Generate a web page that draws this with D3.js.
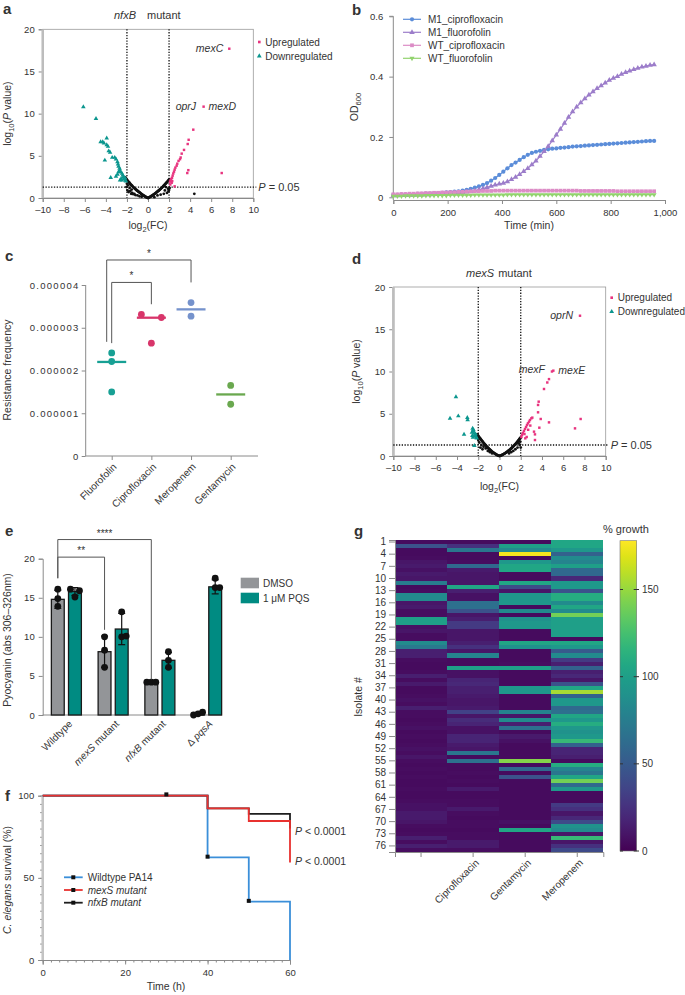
<!DOCTYPE html>
<html><head><meta charset="utf-8">
<script src="https://cdn.jsdelivr.net/npm/d3@7"></script>
<style>
body{margin:0;background:#fff;}
svg text{font-family:"Liberation Sans",Arial,sans-serif;fill:#333;}
</style></head><body>
<svg id="fig" width="685" height="995"></svg>
<script>
// ================= DATA =================
// Panel a: nfxB mutant volcano ([log2FC, -log10 P])
const aUp = [[7.72,17.7],[5.28,10.83],[4.3,8.1],[3.86,6.9],[3.77,6.4],[3.42,5.7],[3.2,5.26],[3.1,4.8],[3.04,4.6],[2.9,4.4],[2.78,4.07],[2.72,3.83],[2.6,3.6],[2.53,3.36],[2.47,3.12],[2.4,2.9],[2.34,2.65],[2.28,2.4],[2.2,2.25],[2.15,2.1],[2.09,1.94],[3.83,3.3],[3.73,2.96],[7.0,2.96],[2.53,1.38],[2.3,2.0],[2.25,1.8],[2.12,1.6]];
const aDown = [[-6.14,10.8],[-4.94,9.4],[-4.5,6.64],[-4.3,6.64],[-4.18,6.5],[-3.92,7.1],[-3.92,6.3],[-3.8,6.1],[-3.73,5.57],[-3.6,5.4],[-4.1,4.47],[-3.4,4.8],[-3.16,4.8],[-3.04,4.6],[-2.9,4.27],[-2.85,4.0],[-2.8,3.75],[-2.7,3.5],[-2.66,3.28],[-3.54,2.4],[-3.04,2.57],[-2.6,3.08],[-2.47,2.9],[-2.4,2.7],[-2.34,2.5],[-2.25,2.3],[-2.15,2.1],[-2.47,2.1],[-2.66,2.1],[-2.1,2.0],[-2.8,3.1],[-2.9,2.8],[-2.55,2.3],[-2.2,2.4]];
const aNs = [[-2.15,2.45],[-2.1,2.3],[-2.05,2.2],[-2.0,2.15],[-1.95,2.05],[-1.9,2.0],[-1.85,1.9],[-1.8,1.85],[-1.75,1.78],[-1.7,1.7],[-1.65,1.62],[-1.6,1.55],[-1.55,1.5],[-1.5,1.42],[-1.45,1.36],[-1.4,1.3],[-1.35,1.24],[-1.3,1.18],[-1.25,1.12],[-1.2,1.06],[-1.15,1.0],[-1.1,0.95],[-1.05,0.9],[-1.0,0.85],[-0.95,0.8],[-0.9,0.75],[-0.85,0.7],[-0.8,0.65],[-0.75,0.6],[-0.7,0.55],[-0.65,0.5],[-0.6,0.45],[-0.55,0.4],[-0.5,0.36],[-0.45,0.32],[-0.4,0.28],[-0.35,0.24],[-0.3,0.2],[-0.25,0.16],[-0.2,0.12],[-0.15,0.08],[-0.1,0.05],[-0.05,0.02],[0,0],
 [-2.05,1.3],[-1.95,0.9],[-1.85,0.7],[-1.7,0.8],[-1.6,0.5],[-1.5,0.6],[-1.4,0.45],[-1.3,0.5],[-1.2,0.35],[-1.0,0.3],[-0.8,0.2],[-0.6,0.15],[-1.75,1.2],[-1.55,1.0],[-1.9,1.5],[-2.0,1.7],
 [0.05,0.03],[0.1,0.06],[0.15,0.1],[0.2,0.13],[0.25,0.17],[0.3,0.21],[0.35,0.25],[0.4,0.29],[0.45,0.33],[0.5,0.37],[0.55,0.42],[0.6,0.46],[0.65,0.51],[0.7,0.56],[0.75,0.61],[0.8,0.66],[0.85,0.71],[0.9,0.76],[0.95,0.81],[1.0,0.86],[1.05,0.92],[1.1,0.97],[1.15,1.03],[1.2,1.09],[1.25,1.15],[1.3,1.21],[1.35,1.27],[1.4,1.33],[1.45,1.4],[1.5,1.46],[1.55,1.53],[1.6,1.6],[1.65,1.67],[1.7,1.74],[1.75,1.81],[1.8,1.88],[1.85,1.95],[1.9,2.03],[1.95,2.1],[2.0,2.2],
 [1.9,1.1],[1.95,0.8],[2.0,0.95],[1.8,0.6],[1.5,0.5],[1.2,0.4],[0.9,0.3],[1.6,0.9],[1.7,1.3],[2.05,1.2],[0.6,0.1],[4.4,0.5]];
const aGenes = ["mexC","oprJ","mexD"];
// Panel d: mexS mutant volcano
const dUp = [[7.58,16.6],[5.07,10.1],[4.94,10.0],[4.66,9.1],[4.5,8.7],[4.19,7.93],[3.69,6.43],[3.63,6.04],[3.63,5.17],[3.09,4.54],[3.0,4.46],[2.87,4.26],[2.78,4.06],[2.68,3.87],[2.59,3.67],[2.5,3.43],[2.4,3.2],[2.3,2.96],[2.2,2.72],[2.12,2.49],[2.06,2.25],[3.88,4.38],[3.75,3.35],[4.66,3.98],[7.11,3.27],[7.64,4.38],[3.25,2.88],[3.34,2.56],[2.56,2.25],[2.43,2.09],[3.34,1.89],[2.9,3.6],[2.7,3.1],[2.35,2.6]];
const dDown = [[-4.1,7.0],[-4.66,4.46],[-3.88,4.73],[-3.03,4.54],[-3.0,4.26],[-3.34,2.56],[-2.53,3.27],[-2.46,2.96],[-2.4,2.68],[-2.3,2.49],[-2.56,2.4],[-2.2,2.25],[-2.15,2.1],[-2.37,1.22],[-2.46,3.1],[-2.6,2.8],[-2.33,2.4],[-2.5,2.2],[-2.25,2.6]];
const dNs = [[-2.1,2.55],[-2.05,2.45],[-2.0,2.38],[-1.95,2.3],[-1.9,2.2],[-1.85,2.12],[-1.8,2.04],[-1.75,1.96],[-1.7,1.88],[-1.65,1.8],[-1.6,1.72],[-1.55,1.64],[-1.5,1.56],[-1.45,1.48],[-1.4,1.4],[-1.35,1.33],[-1.3,1.26],[-1.25,1.19],[-1.2,1.12],[-1.15,1.05],[-1.1,0.98],[-1.05,0.92],[-1.0,0.86],[-0.95,0.8],[-0.9,0.74],[-0.85,0.68],[-0.8,0.62],[-0.75,0.57],[-0.7,0.52],[-0.65,0.47],[-0.6,0.42],[-0.55,0.37],[-0.5,0.33],[-0.45,0.29],[-0.4,0.25],[-0.35,0.21],[-0.3,0.17],[-0.25,0.14],[-0.2,0.1],[-0.15,0.07],[-0.1,0.04],[-0.05,0.02],[0,0],
 [-1.9,1.6],[-1.7,1.3],[-1.5,1.1],[-1.3,0.9],[-1.1,0.6],[-0.9,0.45],[-0.7,0.3],[-1.8,1.0],[-1.6,0.8],[-2.0,1.9],
 [0.05,0.02],[0.1,0.04],[0.15,0.07],[0.2,0.1],[0.25,0.13],[0.3,0.16],[0.35,0.2],[0.4,0.23],[0.45,0.27],[0.5,0.31],[0.55,0.35],[0.6,0.39],[0.65,0.43],[0.7,0.48],[0.75,0.52],[0.8,0.57],[0.85,0.62],[0.9,0.67],[0.95,0.72],[1.0,0.78],[1.05,0.83],[1.1,0.89],[1.15,0.95],[1.2,1.01],[1.25,1.07],[1.3,1.14],[1.35,1.2],[1.4,1.27],[1.45,1.34],[1.5,1.41],[1.55,1.48],[1.6,1.56],[1.65,1.63],[1.7,1.71],[1.75,1.79],[1.8,1.87],[1.85,1.95],[1.9,2.04],[1.95,2.12],[2.0,2.2],
 [1.9,1.3],[1.7,1.0],[1.5,0.8],[1.3,0.6],[1.1,0.45],[0.9,0.3],[1.95,1.7],[1.8,1.5],[2.0,1.0]];
const dGenes = ["oprN","mexF","mexE"];
const volcanoXTicks = [-10,-8,-6,-4,-2,0,2,4,6,8,10];
const volcanoYTicks = [0,5,10,15,20];
const pCut = 1.3;

// Panel b: growth curves
const bTime = [0,15,30,45,60,75,90,105,120,135,150,165,180,195,210,225,240,255,270,285,300,315,330,345,360,375,390,405,420,435,450,465,480,495,510,525,540,555,570,585,600,615,630,645,660,675,690,705,720,735,750,765,780,795,810,825,840,855,870,885,900,915,930,945,960];
const bM1Cipro = [.008,.008,.009,.009,.010,.010,.011,.011,.012,.012,.013,.014,.015,.016,.017,.019,.020,.022,.025,.028,.032,.036,.041,.047,.055,.064,.074,.085,.096,.107,.115,.124,.133,.141,.147,.151,.154,.157,.159,.161,.162,.164,.165,.166,.168,.169,.170,.171,.172,.173,.174,.175,.176,.177,.178,.179,.180,.181,.182,.183,.184,.185,.186,.187,.187];
const bM1Fluoro = [.005,.005,.006,.006,.007,.007,.008,.008,.009,.009,.010,.010,.011,.012,.013,.014,.015,.016,.018,.020,.022,.025,.029,.033,.037,.041,.044,.047,.052,.059,.067,.076,.086,.096,.108,.121,.136,.152,.169,.188,.207,.226,.246,.266,.284,.300,.314,.327,.339,.350,.361,.370,.379,.388,.395,.401,.408,.414,.419,.424,.428,.432,.435,.438,.440];
const bWTCipro = [.010,.010,.011,.011,.012,.012,.013,.013,.014,.014,.015,.015,.016,.016,.017,.017,.018,.018,.019,.019,.020,.020,.021,.021,.021,.022,.022,.022,.022,.022,.022,.022,.022,.022,.022,.022,.022,.022,.022,.022,.022,.022,.022,.022,.022,.022,.021,.021,.021,.021,.021,.021,.021,.021,.021,.020,.020,.020,.020,.020,.020,.020,.020,.020,.020];
const bWTFluoro = [.004,.004,.004,.005,.005,.005,.005,.005,.006,.006,.006,.006,.006,.006,.007,.007,.007,.007,.007,.007,.008,.008,.008,.008,.008,.008,.008,.008,.009,.009,.009,.009,.009,.009,.009,.009,.009,.009,.009,.009,.009,.009,.009,.009,.009,.009,.009,.009,.009,.009,.009,.009,.009,.009,.009,.009,.009,.009,.009,.009,.009,.009,.009,.009,.009];
const bSeriesNames = ["M1_ciprofloxacin","M1_fluorofolin","WT_ciprofloxacin","WT_fluorofolin"];

// Panel c: resistance frequency
const cCats = ["Fluorofolin","Ciprofloxacin","Meropenem","Gentamycin"];
const cPoints = [[2.41e-6,2.21e-6,1.50e-6],[3.31e-6,3.24e-6,2.64e-6],[3.59e-6,3.27e-6],[1.65e-6,1.21e-6]];
const cMedians = [2.2e-6,3.235e-6,3.43e-6,1.44e-6];
const cTicks = [0,1e-6,2e-6,3e-6,4e-6];

// Panel e: pyocyanin
const eGroups = ["Wildtype","mexS mutant","nfxB mutant","Δ pqsA"];
const eTreat = ["DMSO","1 μM PQS"];
const eDmsoMean = [14.8,8.1,4.2,0.15];
const eDmsoSd = [1.15,2.0,0.05,0.15];
const ePqsMean = [15.8,11.0,7.0,16.4];
const ePqsSd = [0.5,2.0,1.0,0.9];
const eDmsoPts = [[16.1,14.9,13.9],[10.0,8.3,6.1],[4.2,4.2,4.2],[0.0,0.15,0.35]];
const ePqsPts = [[16.1,15.1,15.9],[13.2,10.0,10.1],[8.1,7.0,6.1],[17.5,16.3,16.3]];
const eTicks = [0,5,10,15,20];

// Panel f: survival
const fTime = [0,40,50,60];
const fWT = [100,62.5,35.5,0];
const fMexS = [100,92.3,84.6,59.4];
const fNfxB = [100,92.3,88.9,80];
const fWTMarks = [[30,100.8],[40,62.9],[50,36]];
const fNames = ["Wildtype PA14","mexS mutant","nfxB mutant"];

// Panel g: heatmap, % growth for 77 isolates
const gCols = ["","Ciprofloxacin","Gentamycin","Meropenem"];
const gCol1 = [5,45,5,5,6,10,12,8,12,10,75,5,6,85,85,10,12,6,6,100,100,8,10,6,6,85,72,15,15,6,5,5,6,15,6,12,5,5,6,8,6,15,6,6,5,6,8,5,6,5,6,8,6,10,6,5,6,5,6,5,5,6,5,5,6,8,8,12,12,10,6,5,6,15,6,15,6];
const gCipro = [5,25,70,5,5,6,60,12,10,10,10,105,15,8,8,65,65,45,10,15,30,30,10,10,10,15,25,10,80,5,5,100,8,8,18,20,15,15,12,10,10,12,35,10,22,18,8,8,18,18,12,10,70,5,65,5,5,6,5,6,5,12,5,5,6,6,12,6,5,6,6,5,6,6,12,12,6];
const gGenta = [5,100,85,175,5,95,105,105,5,5,105,40,10,95,95,95,5,85,5,90,95,95,5,5,5,105,90,5,5,5,6,100,5,5,5,5,95,95,5,5,5,5,80,10,85,15,65,5,12,8,5,5,5,5,145,5,60,5,45,5,5,5,5,5,5,5,5,5,5,8,5,105,5,5,5,5,5];
const gMero = [105,105,95,55,85,80,100,60,60,20,95,95,45,110,110,85,105,85,140,100,100,100,100,100,5,105,95,50,85,30,15,55,15,20,10,45,105,155,55,95,95,60,65,105,95,110,95,90,95,120,55,18,18,15,5,110,80,70,105,140,60,95,5,5,5,30,25,10,20,40,90,85,10,120,10,25,40];
const gRowTicks = [1,4,7,10,13,16,19,22,25,28,31,34,37,40,43,46,49,52,55,58,61,64,67,70,73,76];
const gColorTicks = [0,50,100,150];
const gColorMax = 178;

// ================= DRAWING =================
const svg = d3.select("#fig");
const TXT = "#333", AX = "#8a8a8a";
const PINK = "#e8347f", TEAL = "#0b968e";

function styleAxis(g, fs) {
  g.selectAll("path.domain").attr("stroke", AX).attr("stroke-width", 1);
  g.selectAll(".tick line").attr("stroke", AX);
  g.selectAll(".tick text").attr("fill", TXT).style("font-size", (fs || 9.5) + "px")
    .style("font-family", '"Liberation Sans", Arial, sans-serif');
  return g;
}
function rich(sel, parts) {
  parts.forEach(p => {
    const t = sel.append("tspan").text(p.t);
    if (p.i) t.style("font-style", "italic");
    if (p.sub) t.attr("dy", 2.5).style("font-size", "0.72em");
    if (p.after) t.attr("dy", -2.5);
  });
  return sel;
}
function panelLabel(x, y, s) {
  svg.append("text").attr("x", x).attr("y", y).text(s)
    .style("font-weight", "bold").style("font-size", "15px").attr("fill", "#000");
}
function rotLabel(x, y, parts, fs) {
  const t = svg.append("text").attr("transform", `translate(${x},${y}) rotate(-90)`)
    .attr("text-anchor", "middle").style("font-size", (fs || 10.5) + "px");
  rich(t, parts);
}
const symTri = d3.symbol().type(d3.symbolTriangle);
const symSq = d3.symbol().type(d3.symbolSquare);

// ---------- Volcano helper ----------
function volcano(o) {
  const g = svg.append("g");
  const x = d3.scaleLinear().domain([-10, 10]).range([o.left, o.right]);
  const y = d3.scaleLinear().domain([0, 20]).range([o.bottom, o.top]);
  g.append("rect").attr("x", o.left).attr("y", o.top).attr("width", o.right - o.left)
    .attr("height", o.bottom - o.top).attr("fill", "none").attr("stroke", "#9a9a9a").attr("stroke-width", 0.8);
  styleAxis(g.append("g").attr("transform", `translate(0,${o.bottom})`)
    .call(d3.axisBottom(x).tickValues(volcanoXTicks).tickSize(4).tickPadding(4)
      .tickFormat(d => d < 0 ? "–" + Math.abs(d) : d)), 9.5);
  styleAxis(g.append("g").attr("transform", `translate(${o.left},0)`)
    .call(d3.axisLeft(y).tickValues(volcanoYTicks).tickSize(4).tickPadding(4)), 9.5);
  g.append("line").attr("x1", o.left).attr("x2", o.left).attr("y1", o.top).attr("y2", o.bottom)
    .attr("stroke", "#bdbdbd").attr("stroke-width", 2.5);
  // thresholds
  [-2, 2].forEach(v => g.append("line").attr("x1", x(v)).attr("x2", x(v)).attr("y1", y(20)).attr("y2", y(0))
    .attr("stroke", "#111").attr("stroke-width", 1.3).attr("stroke-dasharray", "1.3,1.5"));
  g.append("line").attr("x1", x(-10)).attr("x2", x(10) + 3).attr("y1", y(pCut)).attr("y2", y(pCut))
    .attr("stroke", "#111").attr("stroke-width", 1.3).attr("stroke-dasharray", "1.3,1.5");
  const pt = g.append("text").attr("x", x(10) + 5).attr("y", y(pCut)).attr("dy", "0.35em").style("font-size", "11px");
  rich(pt, [{t: "P", i: true}, {t: " = 0.05"}]);
  // points
  g.selectAll(".ns").data(o.ns).join("circle").attr("cx", d => x(d[0])).attr("cy", d => y(d[1]))
    .attr("r", 1.4).attr("fill", "#111");
  g.selectAll(".dn").data(o.down).join("path").attr("d", symTri.size(9)())
    .attr("transform", d => `translate(${x(d[0])},${y(d[1])})`).attr("fill", TEAL);
  g.selectAll(".up").data(o.up).join("path").attr("d", symSq.size(6)())
    .attr("transform", d => `translate(${x(d[0])},${y(d[1])})`).attr("fill", PINK);
  // title
  const tt = g.append("text").attr("x", o.titleX).attr("y", o.top - 10).style("font-size", "11px");
  tt.append("tspan").text(o.titleIt).style("font-style", "italic");
  tt.append("tspan").text(o.titleRest).attr("dx", o.titleGap);
  // legend
  const lx = o.right + 6;
  g.append("path").attr("d", symSq.size(7)()).attr("transform", `translate(${lx},${o.legY})`).attr("fill", PINK);
  g.append("text").attr("x", lx + 6).attr("y", o.legY).attr("dy", "0.35em").style("font-size", "10px").text("Upregulated");
  g.append("path").attr("d", symTri.size(10)()).attr("transform", `translate(${lx},${o.legY + 14})`).attr("fill", TEAL);
  g.append("text").attr("x", lx + 6).attr("y", o.legY + 14).attr("dy", "0.35em").style("font-size", "10px").text("Downregulated");
  // axis label
  const xl = g.append("text").attr("x", (o.left + o.right) / 2).attr("y", o.xLabY).attr("text-anchor", "middle").style("font-size", "10.5px");
  rich(xl, [{t: "log"}, {t: "2", sub: true}, {t: "(FC)", after: true}]);
  rotLabel(o.yLabX, (o.top + o.bottom) / 2, [{t: "log"}, {t: "10", sub: true}, {t: "(", after: true}, {t: "P", i: true}, {t: " value)"}]);
  return {x, y, g};
}
function geneLabel(v, pt, name, side) {
  const t = v.g.append("text").attr("x", v.x(pt[0]) + (side === "left" ? -6 : 5)).attr("y", v.y(pt[1]))
    .attr("dy", "0.35em").attr("text-anchor", side === "left" ? "end" : "start")
    .style("font-size", "10.5px").style("font-style", "italic").text(name);
  return t;
}

// ---------- Panel a ----------
panelLabel(3, 14, "a");
const va = volcano({left: 42.7, right: 253.3, top: 29.3, bottom: 198, ns: aNs, up: aUp, down: aDown,
  titleX: 114, titleIt: "nfxB", titleRest: "mutant", titleGap: 11, legY: 42, xLabY: 229, yLabX: 11});
geneLabel(va, aUp[0], aGenes[0], "left");
geneLabel(va, aUp[1], aGenes[1], "left").attr("dx", -1.5);
geneLabel(va, aUp[1], aGenes[2], "right");

// ---------- Panel d ----------
panelLabel(352, 264, "d");
const vd = volcano({left: 393.3, right: 605.7, top: 287, bottom: 456, ns: dNs, up: dUp, down: dDown,
  titleX: 466, titleIt: "mexS", titleRest: "mutant", titleGap: 4, legY: 297.7, xLabY: 490, yLabX: 360});
geneLabel(vd, dUp[0], dGenes[0], "left").attr("dx", -1);
geneLabel(vd, dUp[2], dGenes[1], "left").attr("dx", -1).attr("dy", "0.1em");
geneLabel(vd, dUp[1], dGenes[2], "right");

// ---------- Panel b ----------
panelLabel(352, 15, "b");
{
  const x = d3.scaleLinear().domain([0, 1000]).range([393.3, 665]);
  const y = d3.scaleLinear().domain([0, 0.6]).range([197.3, 16.3]);
  styleAxis(svg.append("g").attr("transform", "translate(0,200)")
    .call(d3.axisBottom(x).tickValues([0, 200, 400, 600, 800, 1000]).tickSize(4).tickPadding(5).tickFormat(d3.format(","))), 9.5);
  const yl = styleAxis(svg.append("g").attr("transform", "translate(393.3,0)")
    .call(d3.axisLeft(y).tickValues([0, 0.2, 0.4, 0.6]).tickSize(4).tickPadding(6).tickFormat(d => d === 0 ? "0" : d.toFixed(1))), 9.5);
  yl.select("path.domain").attr("d", "M-4,16.3H0V200");
  const series = [bM1Cipro, bM1Fluoro, bWTCipro, bWTFluoro];
  const cols = ["#5b8dd9", "#9c7dca", "#dc8cc6", "#92d36e"];
  const syms = [d3.symbolCircle, d3.symbolTriangle, d3.symbolSquare, d3.symbolTriangle];
  const rots = [0, 0, 0, 180];
  const sizes = [14, 13, 14, 11];
  const line = d3.line().x((d, i) => x(bTime[i])).y(d => y(d));
  series.forEach((s, k) => {
    svg.append("path").datum(s).attr("d", line).attr("fill", "none").attr("stroke", cols[k]).attr("stroke-width", 1.2);
    svg.append("g").selectAll("path").data(s).join("path")
      .attr("d", d3.symbol().type(syms[k]).size(sizes[k])())
      .attr("transform", (d, i) => `translate(${x(bTime[i])},${y(d)}) rotate(${rots[k]})`)
      .attr("fill", cols[k]);
  });
  // legend
  bSeriesNames.forEach((n, k) => {
    const ly = 19.3 + k * 13;
    svg.append("line").attr("x1", 403).attr("x2", 421).attr("y1", ly).attr("y2", ly).attr("stroke", cols[k]).attr("stroke-width", 1.2);
    svg.append("path").attr("d", d3.symbol().type(syms[k]).size(sizes[k])())
      .attr("transform", `translate(412,${ly}) rotate(${rots[k]})`).attr("fill", cols[k]);
    svg.append("text").attr("x", 428).attr("y", ly).attr("dy", "0.35em").style("font-size", "10px").text(n);
  });
  svg.append("text").attr("x", 529).attr("y", 229).attr("text-anchor", "middle").style("font-size", "10.5px").text("Time (min)");
  rotLabel(358, 107, [{t: "OD"}, {t: "600", sub: true}]);
}

// ---------- Panel c ----------
panelLabel(5, 261, "c");
{
  const x = d3.scalePoint().domain(cCats).range([111.7, 230.7]);
  const y = d3.scaleLinear().domain([0, 4e-6]).range([456, 285]);
  const yg = styleAxis(svg.append("g").attr("transform", "translate(85.7,0)")
    .call(d3.axisLeft(y).tickValues(cTicks).tickSize(4).tickPadding(2).tickFormat(d => d === 0 ? "0" : d.toFixed(6))), 9.5);
  yg.selectAll(".tick text").style("letter-spacing", "1.3px");
  yg.select("path.domain").attr("d", "M0,285V456");
  const xg = styleAxis(svg.append("g").attr("transform", "translate(0,456)")
    .call(d3.axisBottom(x).tickSize(4).tickFormat("")), 9.5);
  xg.select("path.domain").attr("d", "M85.7,0H258");
  const cols = ["#17a094", "#d8356a", "#7592cc", "#6aa84f"];
  cCats.forEach((c, k) => {
    const cx = x(c);
    svg.append("line").attr("x1", cx - 14.5).attr("x2", cx + 14.5).attr("y1", y(cMedians[k])).attr("y2", y(cMedians[k]))
      .attr("stroke", cols[k]).attr("stroke-width", 2.3);
    const pts = cPoints[k];
    pts.forEach((v, i) => {
      // spread points that sit close to another point of the same group
      const close = pts.filter((w, j) => j !== i && Math.abs(w - v) < 0.15e-6);
      let off = 0;
      if (close.length) off = v > close[0] ? -10 : 10;
      svg.append("circle").attr("cx", cx + off).attr("cy", y(v)).attr("r", 3.4).attr("fill", cols[k]);
    });
    svg.append("text").attr("transform", `translate(${cx + 3},${465}) rotate(-45)`).attr("text-anchor", "end")
      .attr("dy", "0.35em").style("font-size", "10px").text(c);
  });
  // brackets
  const br = (xl, xr, yTop, yl, yr, lab) => {
    svg.append("path").attr("d", `M${xl},${y(yl)}V${y(yTop)}H${xr}V${y(yr)}`).attr("fill", "none").attr("stroke", "#555").attr("stroke-width", 1);
    svg.append("text").attr("x", (xl + xr) / 2).attr("y", y(yTop) - 3).attr("text-anchor", "middle").style("font-size", "10px").text(lab);
  };
  br(x(cCats[0]), x(cCats[1]), 4.06e-6, 2.64e-6, 3.55e-6, "*");
  br(x(cCats[0]) - 5, x(cCats[2]), 4.585e-6, 2.67e-6, 4.06e-6, "*");
  rotLabel(11, 370, [{t: "Resistance frequency"}]);
}

// ---------- Panel e ----------
panelLabel(5, 536, "e");
{
  const x0 = d3.scaleBand().domain(eGroups).range([43, 230]);
  const x1 = d3.scaleBand().domain(eTreat).range([-15, 15]).paddingInner(0.25);
  const y = d3.scaleLinear().domain([0, 20]).range([715, 558.7]);
  styleAxis(svg.append("g").attr("transform", "translate(42.7,0)")
    .call(d3.axisLeft(y).tickValues(eTicks).tickSize(4).tickPadding(4)), 9.5);
  svg.append("line").attr("x1", 42.7).attr("x2", 222).attr("y1", 715).attr("y2", 715).attr("stroke", AX);
  const fills = ["#939598", "#008b82"];
  const means = [eDmsoMean, ePqsMean], sds = [eDmsoSd, ePqsSd], pts = [eDmsoPts, ePqsPts];
  eGroups.forEach((gname, gi) => {
    const cx = x0(gname) + x0.bandwidth() / 2;
    eTreat.forEach((t, ti) => {
      const bx = cx + x1(t), bw = x1.bandwidth(), m = means[ti][gi], s = sds[ti][gi];
      svg.append("rect").attr("x", bx).attr("y", y(m)).attr("width", bw).attr("height", Math.max(0, 715 - y(m)))
        .attr("fill", fills[ti]).attr("stroke", "#1a1a1a").attr("stroke-width", 1.3);
      const mx = bx + bw / 2;
      svg.append("line").attr("x1", mx).attr("x2", mx).attr("y1", y(m - s)).attr("y2", y(m + s)).attr("stroke", "#111").attr("stroke-width", 1.2);
      [m - s, m + s].forEach(v => svg.append("line").attr("x1", mx - 3.5).attr("x2", mx + 3.5).attr("y1", y(v)).attr("y2", y(v)).attr("stroke", "#111").attr("stroke-width", 1.2));
      const arr = pts[ti][gi];
      arr.forEach((v, i) => {
        const same = arr.filter(w => Math.abs(w - v) < 0.5).length > 1;
        const off = same ? (i - 1) * 4.5 : 0;
        svg.append("circle").attr("cx", mx + off).attr("cy", y(v)).attr("r", 3.4).attr("fill", "#111");
      });
    });
    const lt = svg.append("text").attr("transform", `translate(${cx + 4},${722}) rotate(-45)`).attr("text-anchor", "end")
      .attr("dy", "0.35em").style("font-size", "10px");
    if (gname === "Wildtype") lt.text(gname);
    else if (gname === "Δ pqsA") rich(lt, [{t: "Δ "}, {t: "pqsA", i: true}]);
    else { const [a, b] = gname.split(" "); rich(lt, [{t: a, i: true}, {t: " " + b}]); }
  });
  // brackets
  const dmsoC = gi => x0(eGroups[gi]) + x0.bandwidth() / 2 + x1("DMSO") + x1.bandwidth() / 2;
  const br = (a, b, top, yl, yr, lab) => {
    svg.append("path").attr("d", `M${dmsoC(a)},${y(yl)}V${y(top)}H${dmsoC(b)}V${y(yr)}`).attr("fill", "none").attr("stroke", "#555").attr("stroke-width", 1);
    svg.append("text").attr("x", (dmsoC(a) + dmsoC(b)) / 2).attr("y", y(top) - 3).attr("text-anchor", "middle").style("font-size", "10px").text(lab);
  };
  br(0, 2, 22.45, 17.5, 4.55, "****");
  br(0, 1, 20.2, 17.5, 10.9, "**");
  // legend
  eTreat.forEach((t, ti) => {
    const ly = 583 + ti * 15;
    svg.append("rect").attr("x", 240.7).attr("y", ly - 5.3).attr("width", 18.3).attr("height", 10.6).attr("fill", fills[ti]);
    svg.append("text").attr("x", 263).attr("y", ly).attr("dy", "0.35em").style("font-size", "10px").text(t);
  });
  rotLabel(11, 640, [{t: "Pyocyanin (abs 306–326nm)"}]);
}

// ---------- Panel f ----------
panelLabel(5, 801, "f");
{
  const x = d3.scaleLinear().domain([0, 60]).range([42.7, 290]);
  const y = d3.scaleLinear().domain([0, 100]).range([960, 795.7]);
  styleAxis(svg.append("g").attr("transform", "translate(0,960)")
    .call(d3.axisBottom(x).tickValues(d3.range(0, 61, 2)).tickSize(2.5).tickFormat("")), 9.5).select("path.domain").remove();
  styleAxis(svg.append("g").attr("transform", "translate(0,960)")
    .call(d3.axisBottom(x).tickValues([0, 20, 40, 60]).tickSize(4.5).tickPadding(5)), 9.5);
  styleAxis(svg.append("g").attr("transform", "translate(42.7,0)")
    .call(d3.axisLeft(y).tickValues(d3.range(0, 101, 5)).tickSize(2.5).tickFormat("")), 9.5).select("path.domain").remove();
  styleAxis(svg.append("g").attr("transform", "translate(42.7,0)")
    .call(d3.axisLeft(y).tickValues([0, 50, 100]).tickSize(4.5).tickPadding(4)), 9.5);
  svg.append("line").attr("x1", 42.7).attr("x2", 42.7).attr("y1", 795.7).attr("y2", 960).attr("stroke", "#c4c4c4").attr("stroke-width", 2.5);
  const step = d3.line().curve(d3.curveStepAfter).x((d, i) => x(fTime[i])).y(d => y(d));
  const cols = ["#3b8fd9", "#e8312f", "#1e1e1e"];
  [fWT, fNfxB, fMexS].forEach((s, k) => {
    const c = [cols[0], cols[2], cols[1]][k];
    svg.append("path").datum(s).attr("d", step).attr("fill", "none").attr("stroke", c).attr("stroke-width", 1.8);
  });
  fWTMarks.forEach(m => svg.append("rect").attr("x", x(m[0]) - 2).attr("y", y(m[1]) - 2).attr("width", 4).attr("height", 4).attr("fill", "#111"));
  // legend
  fNames.forEach((n, k) => {
    const ly = 877.3 + k * 12.7;
    svg.append("line").attr("x1", 64).attr("x2", 82.7).attr("y1", ly).attr("y2", ly).attr("stroke", cols[k]).attr("stroke-width", 1.8);
    svg.append("rect").attr("x", 71.3).attr("y", ly - 2).attr("width", 4).attr("height", 4).attr("fill", "#111");
    const t = svg.append("text").attr("x", 87.7).attr("y", ly).attr("dy", "0.35em").style("font-size", "10px").text(n);
    if (k > 0) t.style("font-style", "italic");
  });
  [831, 861].forEach(py => {
    const t = svg.append("text").attr("x", 295).attr("y", py).attr("dy", "0.35em").style("font-size", "10.5px");
    rich(t, [{t: "P", i: true}, {t: " < 0.0001"}]);
  });
  svg.append("text").attr("x", 166).attr("y", 990).attr("text-anchor", "middle").style("font-size", "10.5px").text("Time (h)");
  rotLabel(11, 880, [{t: "C. elegans", i: true}, {t: " survival (%)"}]);
}

// ---------- Panel g ----------
panelLabel(354, 536, "g");
{
  const rows = d3.range(1, gCol1.length + 1);
  const y = d3.scaleBand().domain(rows).range([540, 852]);
  const x = d3.scaleBand().domain(gCols).range([395, 603.3]);
  const color = d3.scaleSequential(d3.interpolateViridis).domain([0, gColorMax]);
  const colsData = [gCol1, gCipro, gGenta, gMero];
  gCols.forEach((c, ci) => {
    svg.append("g").attr("shape-rendering", "crispEdges").selectAll("rect").data(colsData[ci]).join("rect")
      .attr("x", x(c)).attr("y", (d, i) => y(rows[i]))
      .attr("width", x.bandwidth() + (ci < 3 ? 1 : 0))
      .attr("height", (d, i) => y.bandwidth() + (i < rows.length - 1 ? 1 : 0))
      .attr("fill", d => color(d));
  });
  styleAxis(svg.append("g").attr("transform", "translate(395,0)")
    .call(d3.axisLeft(y).tickValues(gRowTicks).tickSize(6).tickPadding(3)), 10);
  styleAxis(svg.append("g").attr("transform", "translate(0,852)")
    .call(d3.axisBottom(x).tickSize(5).tickFormat("")), 10);
  gCols.forEach(c => {
    if (!c) return;
    svg.append("text").attr("transform", `translate(${x(c) + x.bandwidth() / 2 + 4},${861}) rotate(-45)`)
      .attr("text-anchor", "end").attr("dy", "0.35em").style("font-size", "10px").text(c);
  });
  rotLabel(362, 697, [{t: "Isolate #"}]);
  // colorbar
  const defs = svg.append("defs");
  const grad = defs.append("linearGradient").attr("id", "vir").attr("x1", 0).attr("x2", 0).attr("y1", 1).attr("y2", 0);
  d3.range(0, 1.0001, 0.05).forEach(t => grad.append("stop").attr("offset", t).attr("stop-color", d3.interpolateViridis(t)));
  const cb = d3.scaleLinear().domain([0, gColorMax]).range([851, 540.7]);
  svg.append("rect").attr("x", 620).attr("y", 540.7).attr("width", 16.7).attr("height", 851 - 540.7).attr("fill", "url(#vir)")
    .attr("stroke", "#777").attr("stroke-width", 0.6);
  gColorTicks.forEach(v => {
    svg.append("line").attr("x1", 620).attr("x2", 623).attr("y1", cb(v)).attr("y2", cb(v)).attr("stroke", "#333");
    svg.append("line").attr("x1", 633.7).attr("x2", 639).attr("y1", cb(v)).attr("y2", cb(v)).attr("stroke", "#333");
    svg.append("text").attr("x", 642).attr("y", cb(v)).attr("dy", "0.35em").style("font-size", "10px").text(v);
  });
  svg.append("text").attr("x", 603).attr("y", 533).style("font-size", "11px").text("% growth");
}
</script></body></html>
